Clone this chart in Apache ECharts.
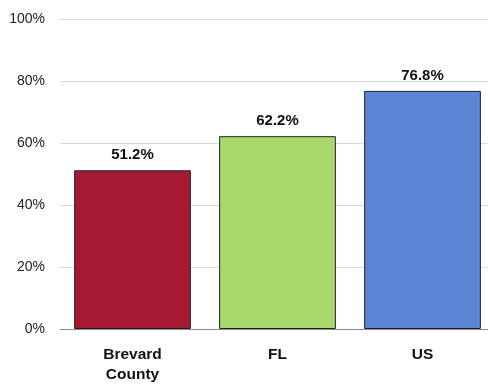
<!DOCTYPE html>
<html>
<head>
<meta charset="utf-8">
<script src="https://cdn.jsdelivr.net/npm/echarts@6/dist/echarts.min.js"></script>
<style>html,body{margin:0;padding:0;background:#fff;overflow:hidden;width:488px;height:386px}#c{width:495px;height:386px}</style>
</head>
<body>
<div id="c"></div>
<script>
const categories = ['Brevard\nCounty', 'FL', 'US'];
const values = [51.2, 62.2, 76.8];
const barColors = ['#A51A32', '#A8D86A', '#5B86D6'];
const yTicks = [0, 20, 40, 60, 80, 100];

const chart = echarts.init(document.getElementById('c'), null, {renderer: 'canvas'});
chart.setOption({
  animation: false,
  grid: {left: 60, right: 0, top: 19, bottom: 57, containLabel: false},
  xAxis: {
    type: 'category',
    data: categories,
    axisLine: {lineStyle: {color: '#8c8c8c', width: 1}},
    axisTick: {show: false},
    axisLabel: {color: '#111', fontFamily: 'Liberation Sans, Arial', fontWeight: 'bold', fontSize: 15.5, margin: 16, lineHeight: 20}
  },
  yAxis: {
    type: 'value',
    min: yTicks[0], max: yTicks[yTicks.length - 1], interval: 20,
    axisLine: {show: false},
    axisTick: {show: false},
    splitLine: {lineStyle: {color: '#d9d9d9', width: 1}},
    axisLabel: {color: '#222', fontFamily: 'Liberation Sans, Arial', fontSize: 14, margin: 15, formatter: '{value}%'}
  },
  series: [{
    type: 'bar',
    data: values.map((v, i) => ({value: v, itemStyle: {color: barColors[i]}})),
    barCategoryGap: '19.5%',
    itemStyle: {borderColor: '#222', borderWidth: 1},
    label: {show: true, position: 'top', distance: 8, color: '#111', fontFamily: 'Liberation Sans, Arial', fontWeight: 'bold', fontSize: 15, formatter: p => p.value.toFixed(1) + '%'}
  }]
});
</script>
</body>
</html>
